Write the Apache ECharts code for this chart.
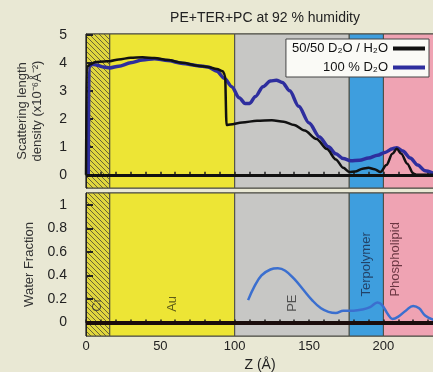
<!DOCTYPE html>
<html><head><meta charset="utf-8">
<script src="https://cdn.jsdelivr.net/npm/echarts@6/dist/echarts.min.js"></script>
<style>html,body{margin:0;padding:0;background:#e9e8d4}#c{width:433px;height:372px}</style>
</head><body><div id="c"></div>
<script>
// ---- data ----
const title = 'PE+TER+PC at 92 % humidity';
const layerEdges = [0, 16, 100, 177, 200, 234];
const layerNames = ['Cr', 'Au', 'PE', 'Terpolymer', 'Phospholipid'];
const seriesNames = ['50/50 D\u2082O / H\u2082O', '100 % D\u2082O'];

const sld5050Z = [0, 0.5, 3, 6, 12, 16, 22, 30, 38, 46, 55, 65, 75, 82, 88, 92, 93.5, 94.5, 97, 105, 115, 125, 133, 140, 147, 155, 162, 168, 173, 177, 181, 186, 190, 194, 198, 202, 206, 209, 212, 216, 220, 222, 234];
const sld5050V = [0, 3.85, 3.95, 4.02, 4.05, 4.06, 4.12, 4.18, 4.2, 4.17, 4.1, 4.0, 3.9, 3.85, 3.78, 3.7, 3.55, 1.78, 1.8, 1.87, 1.93, 1.95, 1.9, 1.78, 1.58, 1.28, 0.92, 0.55, 0.25, 0.1, 0.12, 0.22, 0.25, 0.2, 0.1, 0.35, 0.75, 0.93, 0.75, 0.4, 0.05, 0, 0];

const sldD2OZ = [1.5, 2, 4, 7, 12, 16, 22, 30, 38, 46, 55, 65, 75, 82, 88, 93, 98, 103, 107, 110, 114, 119, 124, 128, 132, 137, 143, 150, 157, 163, 168, 173, 178, 184, 190, 196, 201, 206, 209, 213, 218, 223, 228, 234];
const sldD2OV = [0, 3.85, 3.95, 3.92, 3.85, 3.82, 3.88, 4.0, 4.1, 4.15, 4.08, 3.98, 3.9, 3.85, 3.7, 3.45, 3.15, 2.75, 2.55, 2.55, 2.8, 3.15, 3.35, 3.38, 3.3, 3.0, 2.45, 1.85, 1.35, 1.0, 0.75, 0.58, 0.5, 0.52, 0.6, 0.7, 0.8, 0.93, 0.97, 0.85, 0.6, 0.35, 0.15, 0.04];

const waterZ = [109, 113, 118, 124, 129, 134, 140, 146, 152, 158, 163, 168, 173, 180, 186, 191, 196, 199, 203, 206, 210, 215, 220, 224, 228, 234];
const waterV = [0.19, 0.3, 0.4, 0.45, 0.46, 0.44, 0.37, 0.28, 0.19, 0.12, 0.09, 0.08, 0.1, 0.1, 0.11, 0.13, 0.17, 0.15, 0.07, 0.03, 0.05, 0.1, 0.14, 0.12, 0.06, 0.02];

const sldTicks = [0, 1, 2, 3, 4, 5];
const waterTicks = [0, 0.2, 0.4, 0.6, 0.8, 1];

// ---- styling ----
const FONT = '"Liberation Sans", Arial, sans-serif';
const layerColors = [null, '#ede535', '#c7c7c5', '#3e9ede', '#efa3b3'];
const labelColors = ['#333', '#3a3a10', '#333', '#1c2a4a', '#4a1a26'];

function hatch() {
  const s = 5, c = document.createElement('canvas');
  c.width = s; c.height = s;
  const g = c.getContext('2d');
  g.fillStyle = '#e0d63e'; g.fillRect(0, 0, s, s);
  g.strokeStyle = '#6a6436'; g.lineWidth = 1;
  for (let k = -1; k <= 1; k++) { g.beginPath(); g.moveTo(k * s, 0); g.lineTo(k * s + s, s); g.stroke(); }
  return c;
}
const hatchImg = hatch();

function regions() {
  const out = [];
  for (let i = 0; i < layerNames.length; i++) {
    out.push([
      { xAxis: layerEdges[i], itemStyle: { color: i === 0 ? { image: hatchImg, repeat: 'repeat' } : layerColors[i], borderColor: '#4b4b40', borderWidth: 1 } },
      { xAxis: layerEdges[i + 1] }
    ]);
  }
  return out;
}
const zip = (a, b) => a.map((x, i) => [x, b[i]]);

const labelData = layerNames.map((n, i) => {
  const a = layerEdges[i], b = layerEdges[i + 1];
  const z = i === layerNames.length - 1 ? a + 8 : (a + b) / 2;
  return { name: n, value: [z, n.length > 3 ? 0.22 : 0.09], label: { color: labelColors[i] } };
});

const xBase = {
  type: 'value', min: 0, max: 234, interval: 50, z: 3,
  axisLine: { show: true, lineStyle: { color: '#222', width: 1 } },
  axisTick: { show: true, inside: true, length: 3, lineStyle: { color: '#222', width: 1.5 } },
  minorTick: { show: true, splitNumber: 5, length: 3, lineStyle: { color: '#222', width: 1.5 } },
  splitLine: { show: false }
};
const yBase = {
  type: 'value', offset: 13, z: 3,
  axisLine: { show: true, lineStyle: { color: '#222', width: 1 } },
  axisTick: { show: true, inside: true, length: 7, lineStyle: { color: '#222', width: 2 } },
  axisLabel: { fontFamily: FONT, fontSize: 14, color: '#222', margin: 6 },
  splitLine: { show: false },
  nameLocation: 'middle', nameGap: 28,
  nameTextStyle: { fontFamily: FONT, fontSize: 13, color: '#333', lineHeight: 15 }
};

const chart = echarts.init(document.getElementById('c'), null, { renderer: 'canvas' });
chart.setOption({
  backgroundColor: '#e9e8d4',
  animation: false,
  title: { text: title, left: 260, top: 6, textAlign: 'center',
    textStyle: { fontFamily: FONT, fontSize: 14, fontWeight: 'normal', color: '#222' } },
  legend: {
    data: seriesNames, orient: 'vertical', right: 4, top: 39, align: 'right',
    icon: 'rect', itemWidth: 32, itemHeight: 4, itemGap: 6,
    padding: [3, 4, 3, 6], backgroundColor: '#fafaf6', borderColor: '#444', borderWidth: 1,
    textStyle: { fontFamily: FONT, fontSize: 13, color: '#111' }
  },
  grid: [
    { left: 86, right: -1, top: 34, height: 154, show: true, borderColor: '#333', borderWidth: 1,
      backgroundColor: 'transparent', outerBoundsMode: 'none', containLabel: false },
    { left: 86, right: -1, top: 193, height: 143, show: true, borderColor: '#333', borderWidth: 1,
      backgroundColor: 'transparent', outerBoundsMode: 'none', containLabel: false }
  ],
  xAxis: [
    Object.assign({}, xBase, { gridIndex: 0, axisLabel: { show: false } }),
    Object.assign({}, xBase, { gridIndex: 1, name: 'Z (\u00C5)', nameLocation: 'middle', nameGap: 22,
      nameTextStyle: { fontFamily: FONT, fontSize: 14, color: '#222' },
      axisLabel: { fontFamily: FONT, fontSize: 13, color: '#222', margin: 4, showMaxLabel: false } })
  ],
  yAxis: [
    Object.assign({}, yBase, { gridIndex: 0, min: -0.47, max: 5.03,
      name: 'Scattering length\ndensity (x10\u207B\u2076\u00C5\u207B\u00B2)',
      axisTick: Object.assign({}, yBase.axisTick, { customValues: sldTicks }),
      axisLabel: Object.assign({}, yBase.axisLabel, { customValues: sldTicks }) }),
    Object.assign({}, yBase, { gridIndex: 1, min: -0.115, max: 1.1,
      name: 'Water Fraction',
      axisTick: Object.assign({}, yBase.axisTick, { customValues: waterTicks }),
      axisLabel: Object.assign({}, yBase.axisLabel, { customValues: waterTicks }) })
  ],
  series: [
    { name: seriesNames[0], type: 'line', xAxisIndex: 0, yAxisIndex: 0, data: zip(sld5050Z, sld5050V),
      showSymbol: false, smooth: 0.3, smoothMonotone: 'x', z: 4,
      itemStyle: { color: '#111' }, lineStyle: { color: '#111', width: 2.5 },
      markArea: { silent: true, data: regions() },
      markLine: { silent: true, symbol: 'none', label: { show: false },
        lineStyle: { color: '#111', width: 3, type: 'solid' }, data: [{ yAxis: 0 }] } },
    { name: seriesNames[1], type: 'line', xAxisIndex: 0, yAxisIndex: 0, data: zip(sldD2OZ, sldD2OV),
      showSymbol: false, smooth: 0.3, smoothMonotone: 'x', z: 3,
      itemStyle: { color: '#2e2e9e' }, lineStyle: { color: '#2e2e9e', width: 3.5 } },
    { name: 'water', type: 'line', xAxisIndex: 1, yAxisIndex: 1, data: zip(waterZ, waterV),
      showSymbol: false, smooth: 0.4, z: 3,
      itemStyle: { color: '#3b6fcf' }, lineStyle: { color: '#3b6fcf', width: 2.5 },
      markArea: { silent: true, data: regions() },
      markLine: { silent: true, symbol: 'none', label: { show: false },
        lineStyle: { color: '#1a0c0c', width: 4, type: 'solid' }, data: [{ yAxis: 0 }] } },
    { name: 'layers', type: 'scatter', xAxisIndex: 1, yAxisIndex: 1, symbolSize: 0, z: 5, silent: true,
      data: labelData,
      label: { show: true, position: 'inside', rotate: 90, align: 'left', verticalAlign: 'middle',
        formatter: p => p.name, fontFamily: FONT, fontSize: 13 } }
  ]
});
</script></body></html>
